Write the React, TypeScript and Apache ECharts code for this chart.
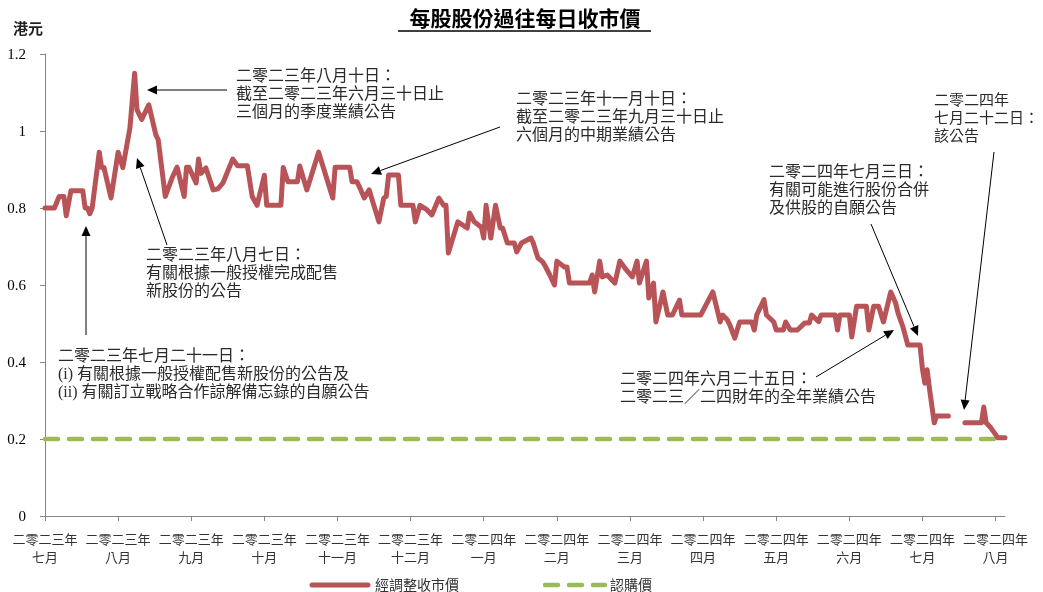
import React, { useEffect, useRef } from "react";
import * as echarts from "echarts";

// ---------- Data ----------
const DATES: string[] = [
  "2023-07-01", "2023-07-05", "2023-07-07", "2023-07-09", "2023-07-10", "2023-07-12", "2023-07-17", "2023-07-18",
  "2023-07-19", "2023-07-20", "2023-07-21", "2023-07-24", "2023-07-25", "2023-07-26", "2023-07-29", "2023-08-01",
  "2023-08-03", "2023-08-06", "2023-08-08", "2023-08-09", "2023-08-11", "2023-08-14", "2023-08-17", "2023-08-18",
  "2023-08-21", "2023-08-24", "2023-08-26", "2023-08-29", "2023-08-30", "2023-08-31", "2023-09-03", "2023-09-04",
  "2023-09-05", "2023-09-07", "2023-09-10", "2023-09-12", "2023-09-14", "2023-09-18", "2023-09-20", "2023-09-24",
  "2023-09-26", "2023-09-28", "2023-10-01", "2023-10-02", "2023-10-08", "2023-10-09", "2023-10-11", "2023-10-15",
  "2023-10-16", "2023-10-19", "2023-10-24", "2023-10-30", "2023-10-31", "2023-11-06", "2023-11-07", "2023-11-09",
  "2023-11-10", "2023-11-12", "2023-11-14", "2023-11-18", "2023-11-20", "2023-11-21", "2023-11-22", "2023-11-26",
  "2023-11-27", "2023-12-02", "2023-12-03", "2023-12-05", "2023-12-08", "2023-12-10", "2023-12-13", "2023-12-15",
  "2023-12-16", "2023-12-17", "2023-12-21", "2023-12-25", "2023-12-26", "2023-12-28", "2023-12-31", "2024-01-01",
  "2024-01-02", "2024-01-04", "2024-01-06", "2024-01-08", "2024-01-09", "2024-01-11", "2024-01-14", "2024-01-15",
  "2024-01-17", "2024-01-21", "2024-01-22", "2024-01-24", "2024-01-26", "2024-01-27", "2024-01-29", "2024-01-31",
  "2024-02-01", "2024-02-04", "2024-02-05", "2024-02-06", "2024-02-14", "2024-02-15", "2024-02-16", "2024-02-18",
  "2024-02-19", "2024-02-21", "2024-02-24", "2024-02-26", "2024-02-28", "2024-03-02", "2024-03-04", "2024-03-05",
  "2024-03-08", "2024-03-09", "2024-03-11", "2024-03-12", "2024-03-15", "2024-03-17", "2024-03-19", "2024-03-22",
  "2024-03-23", "2024-03-31", "2024-04-05", "2024-04-08", "2024-04-09", "2024-04-11", "2024-04-12", "2024-04-14",
  "2024-04-16", "2024-04-21", "2024-04-22", "2024-04-23", "2024-04-26", "2024-04-27", "2024-04-30", "2024-05-01",
  "2024-05-04", "2024-05-05", "2024-05-07", "2024-05-10", "2024-05-13", "2024-05-15", "2024-05-16", "2024-05-19",
  "2024-05-20", "2024-05-26", "2024-05-27", "2024-05-28", "2024-06-01", "2024-06-02", "2024-06-04", "2024-06-08",
  "2024-06-09", "2024-06-11", "2024-06-13", "2024-06-15", "2024-06-18", "2024-06-20", "2024-06-21", "2024-06-23",
  "2024-06-25", "2024-06-30", "2024-07-01", "2024-07-02", "2024-07-03", "2024-07-04", "2024-07-06", "2024-07-07",
  "2024-07-12", "2024-07-15", "2024-07-19", "2024-07-26", "2024-07-27", "2024-07-28", "2024-07-30", "2024-08-02",
  "2024-08-05",
];

const ADJUSTED_CLOSE: (number | null)[] = [
  0.80, 0.80, 0.83, 0.83, 0.78, 0.845, 0.845, 0.80,
  0.80, 0.785, 0.80, 0.945, 0.905, 0.905, 0.826, 0.945,
  0.905, 1.008, 1.15, 1.055, 1.03, 1.068, 0.99, 0.977,
  0.83, 0.88, 0.906, 0.83, 0.906, 0.906, 0.865, 0.927,
  0.89, 0.904, 0.847, 0.85, 0.865, 0.927, 0.91, 0.91,
  0.83, 0.807, 0.885, 0.807, 0.807, 0.905, 0.868, 0.868,
  0.909, 0.847, 0.945, 0.826, 0.906, 0.906, 0.868, 0.868,
  0.855, 0.826, 0.847, 0.764, 0.826, 0.83, 0.886, 0.886,
  0.807, 0.807, 0.764, 0.807, 0.795, 0.782, 0.826, 0.807,
  0.807, 0.683, 0.764, 0.748, 0.787, 0.764, 0.75, 0.722,
  0.807, 0.722, 0.807, 0.748, 0.748, 0.709, 0.709, 0.686,
  0.709, 0.722, 0.709, 0.67, 0.66, 0.65, 0.626, 0.60,
  0.662, 0.647, 0.647, 0.605, 0.605, 0.626, 0.582, 0.662,
  0.621, 0.626, 0.605, 0.662, 0.644, 0.621, 0.662, 0.605,
  0.662, 0.566, 0.605, 0.504, 0.582, 0.522, 0.522, 0.561,
  0.522, 0.522, 0.582, 0.504, 0.522, 0.509, 0.496, 0.462,
  0.504, 0.504, 0.483, 0.522, 0.562, 0.522, 0.504, 0.483,
  0.483, 0.504, 0.483, 0.483, 0.501, 0.501, 0.522, 0.505,
  0.522, 0.522, 0.483, 0.522, 0.522, 0.465, 0.545, 0.545,
  0.483, 0.545, 0.545, 0.504, 0.582, 0.553, 0.527, 0.491,
  0.444, 0.444, 0.382, 0.345, 0.38, 0.33, 0.242, 0.26,
  0.26, null, 0.242, 0.242, 0.283, 0.242, 0.229, 0.203,
  0.203,
];

const SUBSCRIPTION_PRICE = 0.2;

const X_TICK_YEARS: string[] = [
  "二零二三年", "二零二三年", "二零二三年", "二零二三年", "二零二三年", "二零二三年", "二零二四年",
  "二零二四年", "二零二四年", "二零二四年", "二零二四年", "二零二四年", "二零二四年", "二零二四年",
];
const X_TICK_MONTHS: string[] = [
  "七月", "八月", "九月", "十月", "十一月", "十二月", "一月",
  "二月", "三月", "四月", "五月", "六月", "七月", "八月",
];

const SERIES_NAMES = ["經調整收市價", "認購價"];
const TITLE = "每股股份過往每日收市價";
const Y_UNIT = "港元";

const ANNOTATIONS: { lines: string[]; x: number; y: number; size: number; from: number[]; to: number[] }[] = [
  { lines: ["二零二三年八月十日：", "截至二零二三年六月三十日止", "三個月的季度業績公告"], x: 236, y: 66, size: 16, from: [227, 90], to: [147, 90] },
  { lines: ["二零二三年十一月十日：", "截至二零二三年九月三十日止", "六個月的中期業績公告"], x: 516, y: 89, size: 16, from: [500, 127], to: [371, 174] },
  { lines: ["二零二三年八月七日：", "有關根據一般授權完成配售", "新股份的公告"], x: 146, y: 245, size: 16, from: [167, 245], to: [137, 158] },
  { lines: ["二零二三年七月二十一日：", "(i) 有關根據一般授權配售新股份的公告及", "(ii) 有關訂立戰略合作諒解備忘錄的自願公告"], x: 58, y: 346, size: 16, from: [86, 335], to: [86, 226] },
  { lines: ["二零二四年七月三日：", "有關可能進行股份合併", "及供股的自願公告"], x: 769, y: 162, size: 16, from: [871, 224], to: [918, 336] },
  { lines: ["二零二四年", "七月二十二日：", "該公告"], x: 934, y: 91, size: 15, from: [994, 152], to: [964, 410] },
  { lines: ["二零二四年六月二十五日：", "二零二三／二四財年的全年業績公告"], x: 620, y: 369, size: 16, from: [816, 377], to: [894, 330] },
];

// ---------- Helpers ----------
// Month axis: each calendar month occupies one unit, starting July 2023 at 0.
function toPos(d: string): number {
  const [y, m, day] = d.split("-").map(Number);
  const idx = (y - 2023) * 12 + (m - 7);
  const dim = new Date(y, m, 0).getDate();
  return idx + (day - 1) / dim;
}

const FONT = "'Liberation Serif', 'Noto Sans CJK TC', serif";
const RED = "#B85357";
const GREEN = "#9BBB59";

function arrow(from: number[], to: number[]): any[] {
  const [x1, y1] = from;
  const [x2, y2] = to;
  const dx = x2 - x1, dy = y2 - y1;
  const L = Math.hypot(dx, dy);
  const ux = dx / L, uy = dy / L;
  const hl = 10, hw = 4.5;
  const bx = x2 - ux * hl, by = y2 - uy * hl;
  return [
    { type: "line", shape: { x1, y1, x2: bx, y2: by }, style: { stroke: "#000", lineWidth: 1 } },
    {
      type: "polygon",
      shape: { points: [[x2, y2], [bx - uy * hw, by + ux * hw], [bx + uy * hw, by - ux * hw]] },
      style: { fill: "#000" },
    },
  ];
}

export default function App() {
  const ref = useRef<HTMLDivElement>(null);
  useEffect(() => {
    if (!ref.current) return;
    const chart = echarts.init(ref.current, undefined, { renderer: "svg" });
    const xMax = toPos(DATES[DATES.length - 1]);
    const tickVals = X_TICK_MONTHS.map((_, i) => i);
    const closeData = DATES.map((d, i) => [toPos(d), ADJUSTED_CLOSE[i] === null ? "-" : ADJUSTED_CLOSE[i]]);
    const subData = [
      [toPos(DATES[0]), SUBSCRIPTION_PRICE],
      [xMax, SUBSCRIPTION_PRICE],
    ];

    const graphics: any[] = [
      {
        type: "text",
        x: 525,
        y: 17,
        style: { text: TITLE, font: `bold 21px 'Noto Sans CJK TC', sans-serif`, fill: "#000", textAlign: "center", textVerticalAlign: "middle" },
      },
      { type: "line", shape: { x1: 398, y1: 31, x2: 651, y2: 31 }, style: { stroke: "#000", lineWidth: 1.5 } },
      {
        type: "text",
        x: 13,
        y: 27,
        style: { text: Y_UNIT, font: `bold 15px 'Noto Sans CJK TC', sans-serif`, fill: "#222", textVerticalAlign: "middle" },
      },
      // legend
      { type: "line", shape: { x1: 312, y1: 585, x2: 368, y2: 585 }, style: { stroke: RED, lineWidth: 5, lineCap: "round" } },
      { type: "text", x: 375, y: 585, style: { text: SERIES_NAMES[0], font: `14px ${FONT}`, fill: "#333", textVerticalAlign: "middle" } },
      { type: "line", shape: { x1: 545, y1: 585, x2: 605, y2: 585 }, style: { stroke: GREEN, lineWidth: 4.5, lineCap: "round", lineDash: [13, 11] } },
      { type: "text", x: 610, y: 585, style: { text: SERIES_NAMES[1], font: `14px ${FONT}`, fill: "#333", textVerticalAlign: "middle" } },
    ];
    ANNOTATIONS.forEach((a) => {
      graphics.push({
        type: "text",
        x: a.x,
        y: a.y,
        style: { text: a.lines.join("\n"), font: `${a.size}px ${FONT}`, lineHeight: 18, fill: "#2a2a2a", textVerticalAlign: "top" },
      });
      graphics.push(...arrow(a.from, a.to));
    });

    chart.setOption({
      animation: false,
      textStyle: { fontFamily: FONT },
      grid: { left: 45, right: 38, top: 54, bottom: 76, containLabel: false },
      xAxis: {
        type: "value",
        min: 0,
        max: xMax,
        splitLine: { show: false },
        axisLine: { lineStyle: { color: "#868686", width: 1 } },
        axisTick: { show: true, length: 5, customValues: tickVals, lineStyle: { color: "#868686" } },
        axisLabel: {
          customValues: tickVals,
          margin: 14,
          fontSize: 13,
          lineHeight: 18,
          color: "#333",
          fontFamily: FONT,
          formatter: (v: number) => {
            const i = Math.round(v);
            return X_TICK_YEARS[i] ? `${X_TICK_YEARS[i]}\n${X_TICK_MONTHS[i]}` : "";
          },
        },
      },
      yAxis: {
        type: "value",
        min: 0,
        max: 1.2,
        interval: 0.2,
        splitLine: { show: false },
        axisLine: { show: true, lineStyle: { color: "#868686", width: 1 } },
        axisTick: { show: true, length: 5, lineStyle: { color: "#868686" } },
        axisLabel: { fontSize: 15, color: "#000", margin: 19, fontFamily: FONT },
      },
      series: [
        {
          name: SERIES_NAMES[1],
          type: "line",
          data: subData,
          symbol: "none",
          lineStyle: { color: GREEN, width: 4.5, type: [13, 11], cap: "round" },
        },
        {
          name: SERIES_NAMES[0],
          type: "line",
          data: closeData,
          symbol: "none",
          connectNulls: false,
          lineStyle: { color: RED, width: 5, cap: "round", join: "round" },
        },
      ],
      graphic: graphics,
    });
    return () => chart.dispose();
  }, []);
  return <div ref={ref} style={{ position: "fixed", left: 0, top: 0, width: 1043, height: 592 }} />;
}
